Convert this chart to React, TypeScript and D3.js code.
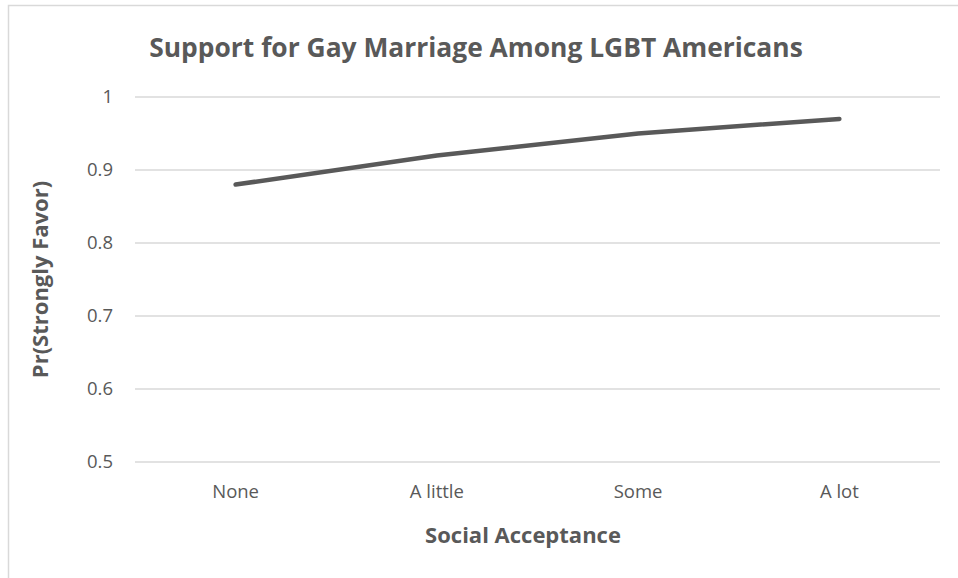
import React from "react";
import * as d3 from "d3";

const categories = ["None", "A little", "Some", "A lot"];
const values = [0.88, 0.92, 0.95, 0.97];
const yTicks = [0.5, 0.6, 0.7, 0.8, 0.9, 1];
const title = "Support for Gay Marriage Among LGBT Americans";
const xTitle = "Social Acceptance";
const yTitle = "Pr(Strongly Favor)";

const W = 958;
const H = 578;
const plot = { left: 135, right: 940, top: 97, bottom: 462 };
const font = "'Open Sans', 'Noto Sans', sans-serif";
const textColor = "#595959";

export default function App() {
  const x = d3
    .scaleBand<string>()
    .domain(categories)
    .range([plot.left, plot.right])
    .paddingInner(0)
    .paddingOuter(0);
  const y = d3.scaleLinear().domain([0.5, 1]).range([plot.bottom, plot.top]);
  const line = d3
    .line<number>()
    .x((_, i) => (x(categories[i]) as number) + x.bandwidth() / 2)
    .y((d) => y(d));

  return (
    <svg
      width={W}
      height={H}
      style={{ position: "absolute", left: 0, top: 0, background: "#fff" }}
    >
      <rect x={8.5} y={5.5} width={1000} height={1000} fill="#fff" stroke="#d9d9d9" strokeWidth={1.5} />
      <text
        x={476}
        y={57}
        textAnchor="middle"
        fontFamily={font}
        fontWeight="bold"
        fontSize={26.4}
        fill={textColor}
      >
        {title}
      </text>
      {yTicks.map((t) => (
        <g key={t}>
          <line
            x1={plot.left}
            x2={plot.right}
            y1={y(t)}
            y2={y(t)}
            stroke="#d9d9d9"
            strokeWidth={1.5}
          />
          <text
            x={113}
            y={y(t)}
            dy="0.35em"
            textAnchor="end"
            fontFamily={font}
            fontSize={18.5}
            fill={textColor}
          >
            {String(t)}
          </text>
        </g>
      ))}
      {categories.map((c) => (
        <text
          key={c}
          x={(x(c) as number) + x.bandwidth() / 2}
          y={492}
          dy="0.35em"
          textAnchor="middle"
          fontFamily={font}
          fontSize={18.5}
          fill={textColor}
        >
          {c}
        </text>
      ))}
      <path
        d={line(values) || ""}
        fill="none"
        stroke="#595959"
        strokeWidth={4.5}
        strokeLinecap="round"
        strokeLinejoin="round"
      />
      <text
        x={523}
        y={535}
        dy="0.35em"
        textAnchor="middle"
        fontFamily={font}
        fontWeight="bold"
        fontSize={22}
        fill={textColor}
      >
        {xTitle}
      </text>
      <text
        transform={`translate(40, ${(plot.top + plot.bottom) / 2}) rotate(-90)`}
        dy="0.35em"
        textAnchor="middle"
        fontFamily={font}
        fontWeight="bold"
        fontSize={22}
        fill={textColor}
      >
        {yTitle}
      </text>
    </svg>
  );
}
